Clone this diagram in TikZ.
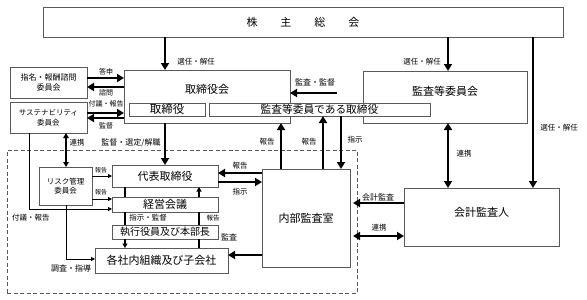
\documentclass[tikz,border=0pt]{standalone}
\usepackage{fontspec}
\setmainfont{Noto Sans CJK JP}
\usetikzlibrary{arrows.meta}
\definecolor{bordergray}{HTML}{5A5A5A}
\newcommand{\fs}[1]{\fontsize{#1}{#1}\selectfont}
\begin{document}
\begin{tikzpicture}[x=1pt,y=-1pt,
  box/.style={draw=bordergray, line width=0.8pt, fill=white, inner sep=0pt, outer sep=0pt, align=center},
  txt/.style={inner sep=0pt, align=center},
  lbl/.style={inner sep=0pt, font=\fs{7.5}},
  tarr/.style={line width=2.2pt, -{Triangle[length=7pt,width=8pt]}},
  tbi/.style={line width=2.2pt, {Triangle[length=7pt,width=8pt]}-{Triangle[length=7pt,width=8pt]}},
  mbi/.style={line width=1.6pt, {Triangle[length=5pt,width=5.5pt]}-{Triangle[length=5pt,width=5.5pt]}},
  narr/.style={line width=0.9pt, -{Triangle[length=4pt,width=4pt]}},
  cline/.style={line width=1.4pt},
  carr/.style={line width=1.4pt, -{Triangle[length=4.5pt,width=5pt]}}
]
\useasboundingbox (0,0) rectangle (587,300);
\fill[white] (0,0) rectangle (587,300);

% dashed frame
\node[draw=bordergray, line width=0.9pt, dash pattern=on 4pt off 2.5pt, inner sep=0pt,
      minimum width=350pt, minimum height=143pt] (frame) at (182,221.5) {};

% helper coordinates
\coordinate (c165) at (165,0);
\coordinate (c448) at (448,0);
\coordinate (c533) at (533,0);
\coordinate (c281) at (281,0);
\coordinate (c323) at (323,0);
\coordinate (c341) at (341,0);
\coordinate (c66)  at (66,0);
\coordinate (c29)  at (29,0);
\coordinate (c125) at (125,0);
\coordinate (c199) at (199,0);
\coordinate (r78)  at (0,78);
\coordinate (r87)  at (0,87);
\coordinate (r113) at (0,113);
\coordinate (r118) at (0,118);
\coordinate (r173) at (0,173);
\coordinate (r182) at (0,182);
\coordinate (r255) at (0,255);
\coordinate (r203) at (0,203);
\coordinate (r236) at (0,236);
\coordinate (r176) at (0,176);
\coordinate (r199) at (0,199);
\coordinate (r209) at (0,209);
\coordinate (r259) at (0,259);
\coordinate (amstart) at (337,93);

% boxes
\node[box, minimum width=520pt, minimum height=30pt] (sh) at (303,22) {};
\node[txt, font=\fs{11}] (sht) at (303,22) {株\hspace{23pt}主\hspace{23pt}総\hspace{23pt}会};

\node[box, minimum width=166pt, minimum height=53pt] (bod) at (207,96.5) {};
\node[txt, font=\fs{11}] (bodt) at (207,89) {取締役会};
\node[box, minimum width=164pt, minimum height=52pt] (acc) at (445,97) {};
\node[txt, font=\fs{11}] (acct) at (445,91) {監査等委員会};
\node[box, minimum width=76pt, minimum height=13pt, font=\fs{11.5}] (dir) at (167,109.5) {取締役};
\node[box, minimum width=221pt, minimum height=13pt, font=\fs{10.7}] (acd) at (319.5,109.5) {監査等委員である取締役};

\node[box, minimum width=77pt, minimum height=31pt, font=\fs{8}, text depth=0pt] (nom) at (48.5,82.5) {指名・報酬諮問\\[2pt]委員会};
\node[box, minimum width=77pt, minimum height=31pt, font=\fs{7.5}] (sus) at (48.5,117.5) {サステナビリティ\\[2pt]委員会};
\node[box, minimum width=53pt, minimum height=38pt, font=\fs{7.5}] (risk) at (65.5,186) {リスク管理\\[2pt]委員会};

\node[box, minimum width=106pt, minimum height=22pt, font=\fs{11}] (rep) at (165,176) {代表取締役};
\node[box, minimum width=106pt, minimum height=15pt, font=\fs{11}] (mgmt) at (165,204.5) {経営会議};
\node[box, minimum width=106pt, minimum height=14pt, font=\fs{10}] (exe) at (165,232) {執行役員及び本部長};
\node[box, minimum width=133pt, minimum height=25pt, font=\fs{11}] (grp) at (161.5,260.5) {各社内組織及び子会社};

\node[box, minimum width=88pt, minimum height=98pt, font=\fs{11}] (ia) at (306,218) {内部監査室};
\node[box, minimum width=155pt, minimum height=58pt] (aud) at (481.5,217) {};
\node[txt, font=\fs{11}] (audt) at (481.5,212) {会計監査人};

% thick connectors
\draw[tarr] (sh.south -| c165) -- (bod.north -| c165);
\draw[tarr] (sh.south -| c448) -- (acc.north -| c448);
\draw[tarr] (sh.south -| c533) -- (aud.north -| c533);
\draw[tarr] (amstart) -- (bod.east |- amstart);
\draw[tarr] (nom.east |- r78) -- (bod.west |- r78);
\draw[tarr] (bod.west |- r87) -- (nom.east |- r87);
\draw[tarr] (sus.east |- r113) -- (bod.west |- r113);
\draw[tarr] (bod.west |- r118) -- (sus.east |- r118);
\draw[tbi] (acc.south -| c448) -- (aud.north -| c448);
\draw[tarr] (bod.south -| c165) -- (rep.north -| c165);
\draw[mbi] (sus.south -| c66) -- (risk.north -| c66);

\draw[tarr] (ia.north -| c281) -- (bod.south -| c281);
\draw[tarr] (ia.north -| c323) -- (acd.south -| c323);
\draw[tarr] (acd.south -| c341) -- (ia.north -| c341);
\draw[tarr] (ia.west |- r173) -- (rep.east |- r173);
\draw[tarr] (rep.east |- r182) -- (ia.west |- r182);
\draw[tarr] (ia.west |- r255) -- (grp.east |- r255);
\draw[tarr] (aud.west |- r203) -- ([xshift=3pt]ia.east |- r203);
\draw[tbi] ([xshift=3pt]ia.east |- r236) -- (aud.west |- r236);

% thin connectors
\draw[narr] (risk.east |- r176) -- (rep.west |- r176);
\draw[narr] (risk.east |- r199) -- (mgmt.west |- r199);
\draw[narr] (sus.south -| c29) |- (mgmt.west |- r209);
\draw[narr] (risk.south -| c66) |- (grp.west |- r259);

% chains
\draw[cline] (rep.south -| c125) -- (mgmt.north -| c125);
\draw[cline] (mgmt.south -| c125) -- (exe.north -| c125);
\draw[carr] (exe.south -| c125) -- (grp.north -| c125);
\draw[cline] (grp.north -| c199) -- (exe.south -| c199);
\draw[cline] (exe.north -| c199) -- (mgmt.south -| c199);
\draw[carr] (mgmt.north -| c199) -- (rep.south -| c199);

% labels
\node[lbl] (l1) at (196,62) {選任・解任};
\node[lbl] (l2) at (422,62) {選任・解任};
\node[lbl] (l3) at (559,128) {選任・解任};
\node[lbl, font=\fs{8}] (l4) at (315,82) {監査・監督};
\node[lbl, font=\fs{7}] (l5) at (106,72) {答申};
\node[lbl, font=\fs{7}] (l6) at (106,93) {諮問};
\node[lbl, font=\fs{7}] (l7) at (106,104) {付議・報告};
\node[lbl, font=\fs{7}] (l8) at (106,126) {監督};
\node[lbl] (l9) at (77,143) {連携};
\node[lbl, font=\fs{8}] (l10) at (131,143) {監督・選定/解職};
\node[lbl] (l11) at (267,142) {報告};
\node[lbl] (l12) at (309,142) {報告};
\node[lbl] (l13) at (355,140) {指示};
\node[lbl] (l14) at (464,154) {連携};
\node[lbl, font=\fs{6}] (l15) at (101,170) {報告};
\node[lbl, font=\fs{6}] (l16) at (101,192) {報告};
\node[lbl] (l17) at (31,218) {付議・報告};
\node[lbl] (l18) at (148,218) {指示・監督};
\node[lbl, font=\fs{6.5}] (l19) at (213,218) {報告};
\node[lbl, font=\fs{8}] (l20) at (229,237) {監査};
\node[lbl, font=\fs{8}] (l21) at (71,268) {調査・指導};
\node[lbl] (l22) at (240,166) {報告};
\node[lbl] (l23) at (240,192) {指示};
\node[lbl, font=\fs{8}] (l24) at (378,197) {会計監査};
\node[lbl] (l25) at (379,228) {連携};
\end{tikzpicture}
\end{document}
